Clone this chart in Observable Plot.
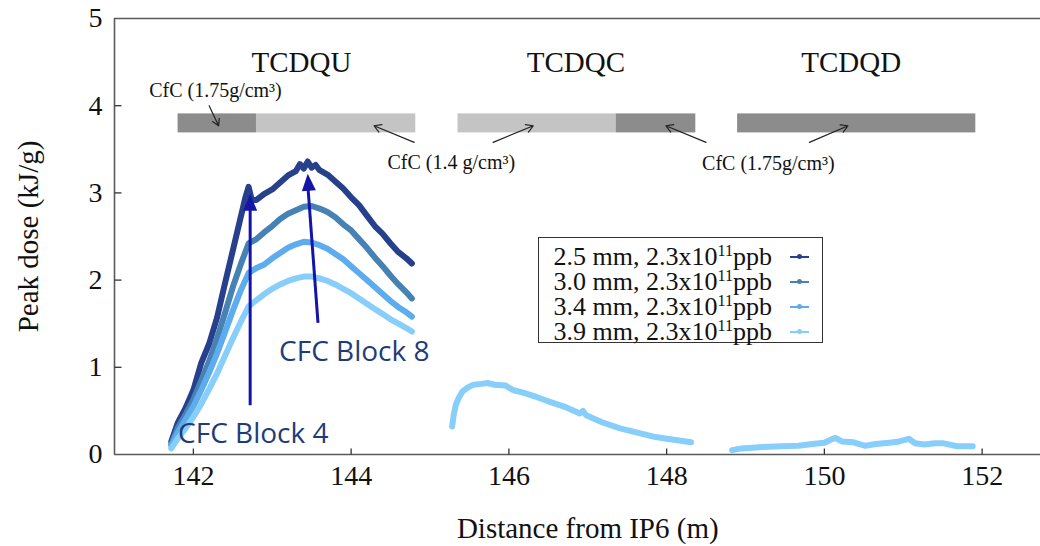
<!DOCTYPE html>
<html><head><meta charset="utf-8">
<script src="https://cdn.jsdelivr.net/npm/d3@7"></script>
<script src="https://cdn.jsdelivr.net/npm/@observablehq/plot@0.6"></script>
<style>
body{margin:0;background:#fff;}
#wrap{position:relative;width:1040px;height:546px;overflow:hidden;}
#legend{position:absolute;left:538px;top:237px;width:283px;height:104px;border:1.5px solid #333;background:#fff;font-family:"Liberation Serif",serif;font-size:26px;color:#111;}
.row{position:absolute;right:50px;height:25px;line-height:25px;white-space:nowrap;}
.row sup{font-size:0.62em;line-height:0;vertical-align:0.55em;}
.sym{position:absolute;left:251px;width:19px;height:2px;}
.sym i{position:absolute;left:7px;top:-2px;width:5px;height:5px;border-radius:50%;}
</style></head>
<body><div id="wrap"></div>
<script>
// ---- data ----
const seriesNames = ["2.5 mm", "3.0 mm", "3.4 mm", "3.9 mm"];
const seriesColors = ["#27408B", "#4682B4", "#5CACEE", "#87CEFA"];
const beamLabel = "2.3x10";

const x1 = [141.72,141.8,141.9,142.0,142.1,142.2,142.3,142.4,142.5,142.6,142.66,142.70,142.74,142.8,142.9,143.0,143.1,143.2,143.3,143.35,143.4,143.45,143.5,143.55,143.6,143.7,143.8,143.9,144.0,144.1,144.2,144.3,144.4,144.5,144.6,144.7,144.77];
const y1 = [0.15,0.36,0.53,0.74,1.05,1.27,1.57,1.96,2.34,2.72,2.95,3.07,2.92,2.92,2.99,3.04,3.12,3.20,3.25,3.33,3.28,3.36,3.29,3.32,3.26,3.21,3.13,3.05,2.95,2.86,2.74,2.62,2.53,2.42,2.32,2.25,2.19];

const xU = [141.72,141.8,141.9,142.0,142.1,142.2,142.3,142.4,142.5,142.6,142.7,142.8,142.9,143.0,143.1,143.2,143.3,143.4,143.5,143.6,143.7,143.8,143.9,144.0,144.1,144.2,144.3,144.4,144.5,144.6,144.7,144.77];
const y2 = [0.12,0.30,0.46,0.63,0.85,1.07,1.33,1.62,1.92,2.18,2.42,2.47,2.55,2.62,2.70,2.76,2.80,2.84,2.85,2.82,2.78,2.72,2.64,2.57,2.47,2.37,2.26,2.16,2.05,1.95,1.86,1.79];
const y3 = [0.10,0.25,0.40,0.55,0.74,0.94,1.16,1.40,1.65,1.88,2.08,2.14,2.18,2.25,2.31,2.37,2.41,2.44,2.43,2.40,2.36,2.30,2.24,2.16,2.08,2.00,1.92,1.84,1.76,1.69,1.63,1.58];
const y4 = [0.07,0.18,0.30,0.43,0.58,0.75,0.93,1.13,1.33,1.52,1.70,1.77,1.84,1.90,1.95,1.99,2.02,2.04,2.04,2.02,1.99,1.95,1.90,1.85,1.79,1.73,1.67,1.61,1.55,1.50,1.45,1.41];

const xC = [145.28,145.30,145.33,145.37,145.41,145.48,145.55,145.65,145.73,145.82,145.96,146.05,146.18,146.35,146.5,146.73,146.9,146.94,146.98,147.18,147.41,147.63,147.86,148.09,148.31];
const y4C = [0.32,0.45,0.58,0.66,0.72,0.77,0.80,0.81,0.82,0.80,0.79,0.74,0.71,0.66,0.61,0.54,0.47,0.50,0.45,0.37,0.30,0.25,0.20,0.17,0.14];
const xD = [148.83,148.95,149.22,149.45,149.67,149.85,150.0,150.08,150.14,150.22,150.37,150.52,150.65,150.82,150.95,151.07,151.15,151.27,151.4,151.5,151.68,151.88];
const y4D = [0.05,0.07,0.086,0.095,0.10,0.12,0.135,0.17,0.19,0.15,0.14,0.10,0.12,0.135,0.15,0.18,0.13,0.115,0.13,0.13,0.095,0.095];

const xTicks = [142,144,146,148,150,152];
const yTicks = [0,1,2,3,4,5];

// absorber blocks (start, end in m, density g/cm3)
const blockStart = [141.806,142.80,145.355,147.36,148.90];
const blockEnd   = [142.80,144.82,147.36,148.37,151.92];
const blockDensity = [1.75,1.4,1.4,1.75,1.75];

const blockNames = ["TCDQU","TCDQC","TCDQD"];
const blockNameX = [143.37,146.85,150.34];

const cfcLabels = ["CfC (1.75g/cm³)","CfC (1.4 g/cm³)","CfC (1.75g/cm³)"];
const cfcLabelX = [142.28,145.27,149.29];
const cfcLabelY = [4.17,3.35,3.34];
const arrowX1 = [142.20,144.80,145.80,148.50,149.81];
const arrowY1 = [4.00,3.58,3.58,3.58,3.58];
const arrowX2 = [142.32,144.29,146.31,147.99,150.30];
const arrowY2 = [3.77,3.77,3.77,3.77,3.77];

const blockArrowLabels = ["CFC Block 4","CFC Block 8"];
const blockArrowX1 = [142.72,143.58];
const blockArrowY1 = [0.565,1.51];
const blockArrowX2 = [142.72,143.45];
const blockArrowY2 = [2.90,3.10];
const blockTipX = [142.72,143.45];
const blockTipY = [2.99,3.22];
const blockArrowLabelX = [142.76,144.04];
const blockArrowLabelY = [0.24,1.17];

// ---- build tables ----
const rows = [];
x1.forEach((x,i)=>rows.push({series:seriesNames[0], seg:"a", x, y:y1[i]}));
xU.forEach((x,i)=>rows.push({series:seriesNames[1], seg:"a", x, y:y2[i]}));
xU.forEach((x,i)=>rows.push({series:seriesNames[2], seg:"a", x, y:y3[i]}));
xU.forEach((x,i)=>rows.push({series:seriesNames[3], seg:"a", x, y:y4[i]}));
xC.forEach((x,i)=>rows.push({series:seriesNames[3], seg:"b", x, y:y4C[i]}));
xD.forEach((x,i)=>rows.push({series:seriesNames[3], seg:"c", x, y:y4D[i]}));

const blocks = blockStart.map((s,i)=>({start:s, end:blockEnd[i], density:blockDensity[i]}));
const names = blockNames.map((n,i)=>({name:n, x:blockNameX[i]}));
const cfc = cfcLabels.map((t,i)=>({t, x:cfcLabelX[i], y:cfcLabelY[i]}));
const arrows = arrowX1.map((x,i)=>({x1:x, y1:arrowY1[i], x2:arrowX2[i], y2:arrowY2[i]}));
const bArrows = blockArrowLabels.map((t,i)=>({t, x1:blockArrowX1[i], y1:blockArrowY1[i], x2:blockArrowX2[i], y2:blockArrowY2[i], tx:blockTipX[i], ty:blockTipY[i], lx:blockArrowLabelX[i], ly:blockArrowLabelY[i]}));

const tickUp = {draw(ctx){ctx.moveTo(0,0);ctx.lineTo(0,-6);}};
const tickRight = {draw(ctx){ctx.moveTo(0,0);ctx.lineTo(7,0);}};
const triHead = {draw(ctx){ctx.moveTo(0,0);ctx.lineTo(-7,17);ctx.lineTo(7,17);ctx.closePath();}};
const axisGray = "#5a5a5a";
const annBlue = "#1414A8";
const annText = "#1F3C7A";
const fmt = d3.format("d");

const chart = Plot.plot({
  width:1040, height:546,
  marginLeft:114, marginRight:0, marginTop:18, marginBottom:92,
  x:{domain:[141,152.74]},
  y:{domain:[0,5]},
  color:{domain:seriesNames, range:seriesColors},
  style:{fontFamily:"'Liberation Serif', serif", background:"white", color:"#111"},
  marks:[
    Plot.rect(blocks,{x1:"start", x2:"end", y1:()=>3.688, y2:()=>3.906, fill:d=>d.density>1.5?"#8c8c8c":"#c4c4c4"}),
    Plot.text(names,{x:"x", y:()=>4.49, text:"name", fontSize:29, fill:"#111"}),
    Plot.text(cfc,{x:"x", y:"y", text:"t", fontSize:20, fill:"#111"}),
    Plot.arrow(arrows,{x1:"x1",y1:"y1",x2:"x2",y2:"y2", stroke:"#222", strokeWidth:1.2, headLength:10}),
    Plot.line(rows,{x:"x", y:"y", z:d=>d.series+d.seg, stroke:"series", strokeWidth:6, strokeLinejoin:"round", strokeLinecap:"round"}),
    Plot.link(bArrows,{x1:"x1",y1:"y1",x2:"x2",y2:"y2", stroke:annBlue, strokeWidth:3}),
    Plot.dot(bArrows,{x:"tx", y:"ty", symbol:triHead, fill:annBlue, stroke:null, rotate:(d,i)=>i===0?0:-3.8}),
    Plot.text(bArrows,{x:"lx", y:"ly", text:"t", fontFamily:"'Open Sans', sans-serif", fontSize:28, fill:annText}),
    Plot.ruleY([0,5],{stroke:axisGray, strokeWidth:1.6}),
    Plot.ruleX([141],{stroke:axisGray, strokeWidth:1.6}),
    Plot.dot(xTicks,{x:d=>d, frameAnchor:"bottom", symbol:tickUp, stroke:"#333", strokeWidth:1.3}),
    Plot.dot(yTicks.slice(1,-1),{y:d=>d, frameAnchor:"left", symbol:tickRight, stroke:"#333", strokeWidth:1.3}),
    Plot.axisX(xTicks,{tickSize:0, tickPadding:11, fontSize:28, label:null, tickFormat:fmt}),
    Plot.axisY(yTicks,{tickSize:0, tickPadding:12, fontSize:28, label:null, tickFormat:fmt}),
    Plot.text(["Peak dose (kJ/g)"],{frameAnchor:"left", textAnchor:"middle", lineAnchor:"middle", rotate:-90, dx:-86, fontSize:29, text:d=>d}),
    Plot.text(["Distance from IP6 (m)"],{x:()=>147, frameAnchor:"bottom", textAnchor:"middle", lineAnchor:"middle", dy:74, fontSize:29, text:d=>d})
  ]
});
const wrap = document.getElementById("wrap");
wrap.appendChild(chart);

// legend
const leg = document.createElement("div");
leg.id = "legend";
seriesNames.forEach((n,i)=>{
  const r = document.createElement("div");
  r.className = "row";
  r.style.top = (6 + i*25) + "px";
  r.innerHTML = `${n}, ${beamLabel}<sup>11</sup>ppb`;
  leg.appendChild(r);
  const s = document.createElement("div");
  s.className = "sym";
  s.style.top = (18 + i*25) + "px";
  s.style.background = seriesColors[i];
  s.innerHTML = `<i style="background:${seriesColors[i]}"></i>`;
  leg.appendChild(s);
});
wrap.appendChild(leg);
</script>
</body></html>
